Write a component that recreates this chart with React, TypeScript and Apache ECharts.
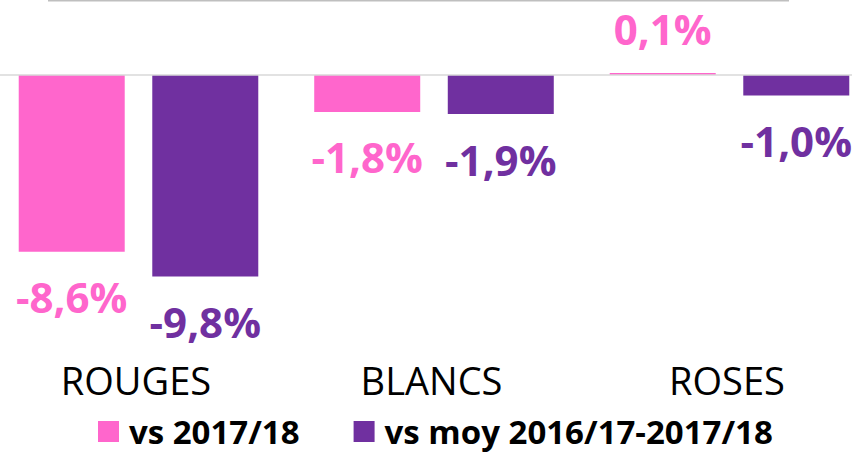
import React, { useEffect, useRef } from "react";
import * as echarts from "echarts";

const categories = ["ROUGES", "BLANCS", "ROSES"];
const seriesNames = ["vs 2017/18", "vs moy 2016/17-2017/18"];
const vs201718 = [-8.6, -1.8, 0.1];
const vsMoy = [-9.8, -1.9, -1.0];

const PINK = "#FF66CC";
const PURPLE = "#7030A0";
const OFFSET = 20; // chart div shifted left so the plot can extend beyond the window

const fmt = (v: number) => v.toFixed(1).replace(".", ",") + "%";

function toData(values: number[]) {
  return values.map((v) => ({
    value: v,
    label: {
      position: v >= 0 ? "top" : "bottom",
      distance: v >= 0 ? 23 : 24,
    },
  }));
}

export default function App() {
  const ref = useRef<HTMLDivElement>(null);
  useEffect(() => {
    if (!ref.current) return;
    const chart = echarts.init(ref.current, undefined, { renderer: "svg" });
    const labelStyle = (color: string) => ({
      show: true,
      color,
      fontFamily: "'Open Sans', 'Liberation Sans', sans-serif",
      fontWeight: "bold" as const,
      fontSize: 42,
      formatter: (p: any) => fmt(p.value),
    });
    chart.setOption({
      animation: false,
      backgroundColor: "#ffffff",
      grid: { left: OFFSET - 9.25, width: 886.5, top: 33.9, height: 287.7 },
      xAxis: {
        type: "category",
        data: categories,
        axisLine: { show: false },
        axisTick: { show: false },
        axisLabel: {
          margin: 39,
          color: "#000000",
          fontFamily: "'Open Sans', 'Liberation Sans', sans-serif",
          fontSize: 38,
          padding: [0, 5, 0, 0],
        },
      },
      yAxis: {
        type: "value",
        min: -12,
        max: 2,
        show: false,
        splitLine: { show: false },
      },
      legend: {
        left: OFFSET + 93,
        top: 410,
        icon: "rect",
        itemWidth: 21,
        itemHeight: 21,
        itemGap: 54,
        textStyle: {
          color: "#000000",
          fontFamily: "'Open Sans', 'Liberation Sans', sans-serif",
          fontWeight: "bold",
          fontSize: 33,
          lineHeight: 30,
          padding: [0, 0, 0, 5],
        },
        data: seriesNames,
      },
      graphic: [
        {
          type: "line",
          shape: { x1: OFFSET + 48, y1: 0.5, x2: OFFSET + 789, y2: 0.5 },
          style: { stroke: "#bfbfbf", lineWidth: 2 },
        },
      ],
      series: [
        {
          name: seriesNames[0],
          type: "bar",
          data: toData(vs201718),
          barWidth: 106,
          barGap: "26%",
          itemStyle: { color: PINK },
          label: labelStyle(PINK),
          markLine: {
            silent: true,
            symbol: "none",
            label: { show: false },
            lineStyle: { color: "#d9d9d9", type: "solid", width: 1.5 },
            data: [{ yAxis: 0 }],
          },
        },
        {
          name: seriesNames[1],
          type: "bar",
          data: toData(vsMoy),
          barWidth: 106,
          barGap: "26%",
          itemStyle: { color: PURPLE },
          label: labelStyle(PURPLE),
        },
      ],
    });
    return () => chart.dispose();
  }, []);
  return (
    <div
      style={{
        position: "absolute",
        left: 0,
        top: 0,
        width: 852,
        height: 455,
        overflow: "hidden",
      }}
    >
      <div
        ref={ref}
        style={{
          position: "absolute",
          left: -OFFSET,
          top: 0,
          width: 852 + 3 * OFFSET,
          height: 455,
        }}
      />
    </div>
  );
}
